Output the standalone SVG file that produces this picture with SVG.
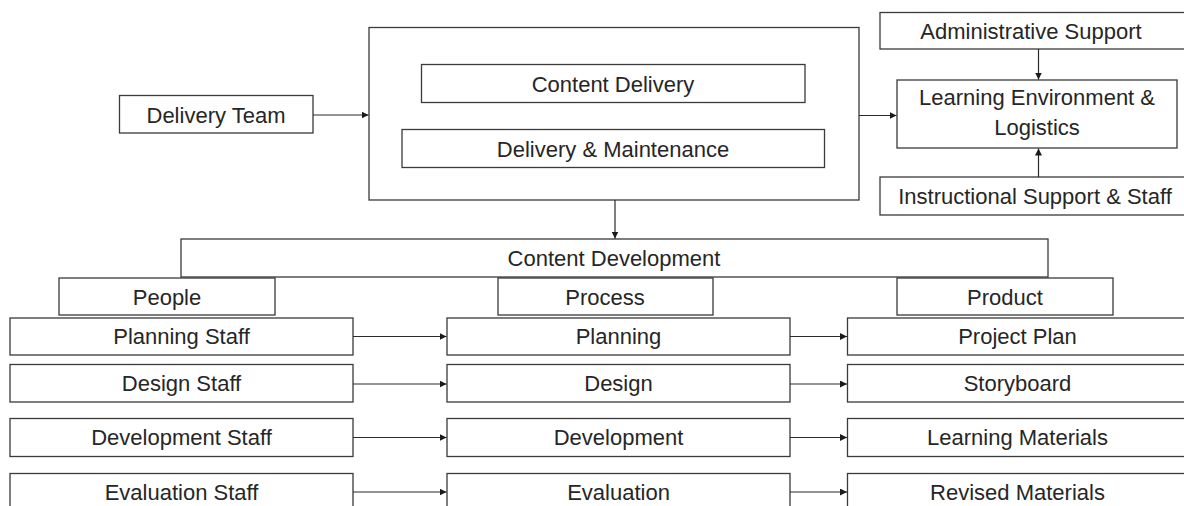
<svg xmlns="http://www.w3.org/2000/svg" width="1184" height="506" viewBox="0 0 1184 506">
<style>
rect{fill:#fff;stroke:#3a3a3a;stroke-width:1.3}
text{font-family:"Liberation Sans",Arial,sans-serif;font-size:22px;fill:#262626;text-anchor:middle;dominant-baseline:central}
.c line{stroke:#2a2a2a;stroke-width:1.2;marker-end:url(#ah)}
</style>
<defs>
<marker id="ah" viewBox="0 0 10 10" refX="10" refY="5" markerWidth="7" markerHeight="7" markerUnits="userSpaceOnUse" orient="auto">
<path d="M0,0 L10,5 L0,10 z" fill="#1a1a1a"/>
</marker>
</defs>
<rect width="1184" height="506" style="stroke:none;fill:#fff"/>
<g id="delivery-group"><rect x="369" y="27.5" width="490" height="172.5"/></g>
<g id="content-delivery"><rect x="421.5" y="64.5" width="383.5" height="38"/><text x="613" y="84">Content Delivery</text></g>
<g id="delivery-maintenance"><rect x="402" y="129.5" width="422.5" height="38"/><text x="613" y="149">Delivery &amp; Maintenance</text></g>
<g id="delivery-team"><rect x="119.5" y="95.5" width="193.5" height="37.5"/><text x="216" y="115">Delivery Team</text></g>
<g id="admin-support"><rect x="880" y="12.5" width="306" height="36.5"/><text x="1031" y="31">Administrative Support</text></g>
<g id="learning-env"><rect x="897" y="80" width="280" height="68"/><text x="1037" y="97">Learning Environment &amp;</text><text x="1037" y="127">Logistics</text></g>
<g id="instructional-support"><rect x="880" y="177" width="306" height="38"/><text x="1035" y="196">Instructional Support &amp; Staff</text></g>
<g id="content-development"><rect x="181" y="239" width="867" height="38"/><text x="614" y="258">Content Development</text></g>
<g id="people"><rect x="59" y="278" width="216" height="37"/><text x="167" y="297">People</text></g>
<g id="process"><rect x="498" y="278" width="215" height="37"/><text x="605" y="297">Process</text></g>
<g id="product"><rect x="897" y="278" width="216" height="37"/><text x="1005" y="297">Product</text></g>
<g id="planning-staff"><rect x="10" y="318" width="343" height="37"/><text x="181.5" y="336.5">Planning Staff</text></g>
<g id="design-staff"><rect x="10" y="364.5" width="343" height="37.5"/><text x="181.5" y="383">Design Staff</text></g>
<g id="development-staff"><rect x="10" y="418.5" width="343" height="38"/><text x="181.5" y="437.5">Development Staff</text></g>
<g id="evaluation-staff"><rect x="10" y="473.5" width="343" height="38"/><text x="181.5" y="492">Evaluation Staff</text></g>
<g id="planning"><rect x="447" y="318" width="343" height="37"/><text x="618.5" y="336.5">Planning</text></g>
<g id="design"><rect x="447" y="364.5" width="343" height="37.5"/><text x="618.5" y="383">Design</text></g>
<g id="development"><rect x="447" y="418.5" width="343" height="38"/><text x="618.5" y="437.5">Development</text></g>
<g id="evaluation"><rect x="447" y="473.5" width="343" height="38"/><text x="618.5" y="492">Evaluation</text></g>
<g id="project-plan"><rect x="847.5" y="318" width="342" height="37"/><text x="1017.5" y="336.5">Project Plan</text></g>
<g id="storyboard"><rect x="847.5" y="364.5" width="342" height="37.5"/><text x="1017.5" y="383">Storyboard</text></g>
<g id="learning-materials"><rect x="847.5" y="418.5" width="342" height="38"/><text x="1017.5" y="437.5">Learning Materials</text></g>
<g id="revised-materials"><rect x="847.5" y="473.5" width="342" height="38"/><text x="1017.5" y="492">Revised Materials</text></g>
<g id="connectors" class="c">
<line x1="313" y1="115" x2="368.5" y2="115"/>
<line x1="859" y1="115.5" x2="896.5" y2="115.5"/>
<line x1="1038.5" y1="49" x2="1038.5" y2="79.5"/>
<line x1="1038.5" y1="177" x2="1038.5" y2="148.5"/>
<line x1="615" y1="200" x2="615" y2="238.5"/>
<line x1="353" y1="336.5" x2="446.5" y2="336.5"/>
<line x1="353" y1="384" x2="446.5" y2="384"/>
<line x1="353" y1="437.5" x2="446.5" y2="437.5"/>
<line x1="353" y1="492" x2="446.5" y2="492"/>
<line x1="790" y1="336.5" x2="847" y2="336.5"/>
<line x1="790" y1="384" x2="847" y2="384"/>
<line x1="790" y1="437.5" x2="847" y2="437.5"/>
<line x1="790" y1="492" x2="847" y2="492"/>
</g>
</svg>
